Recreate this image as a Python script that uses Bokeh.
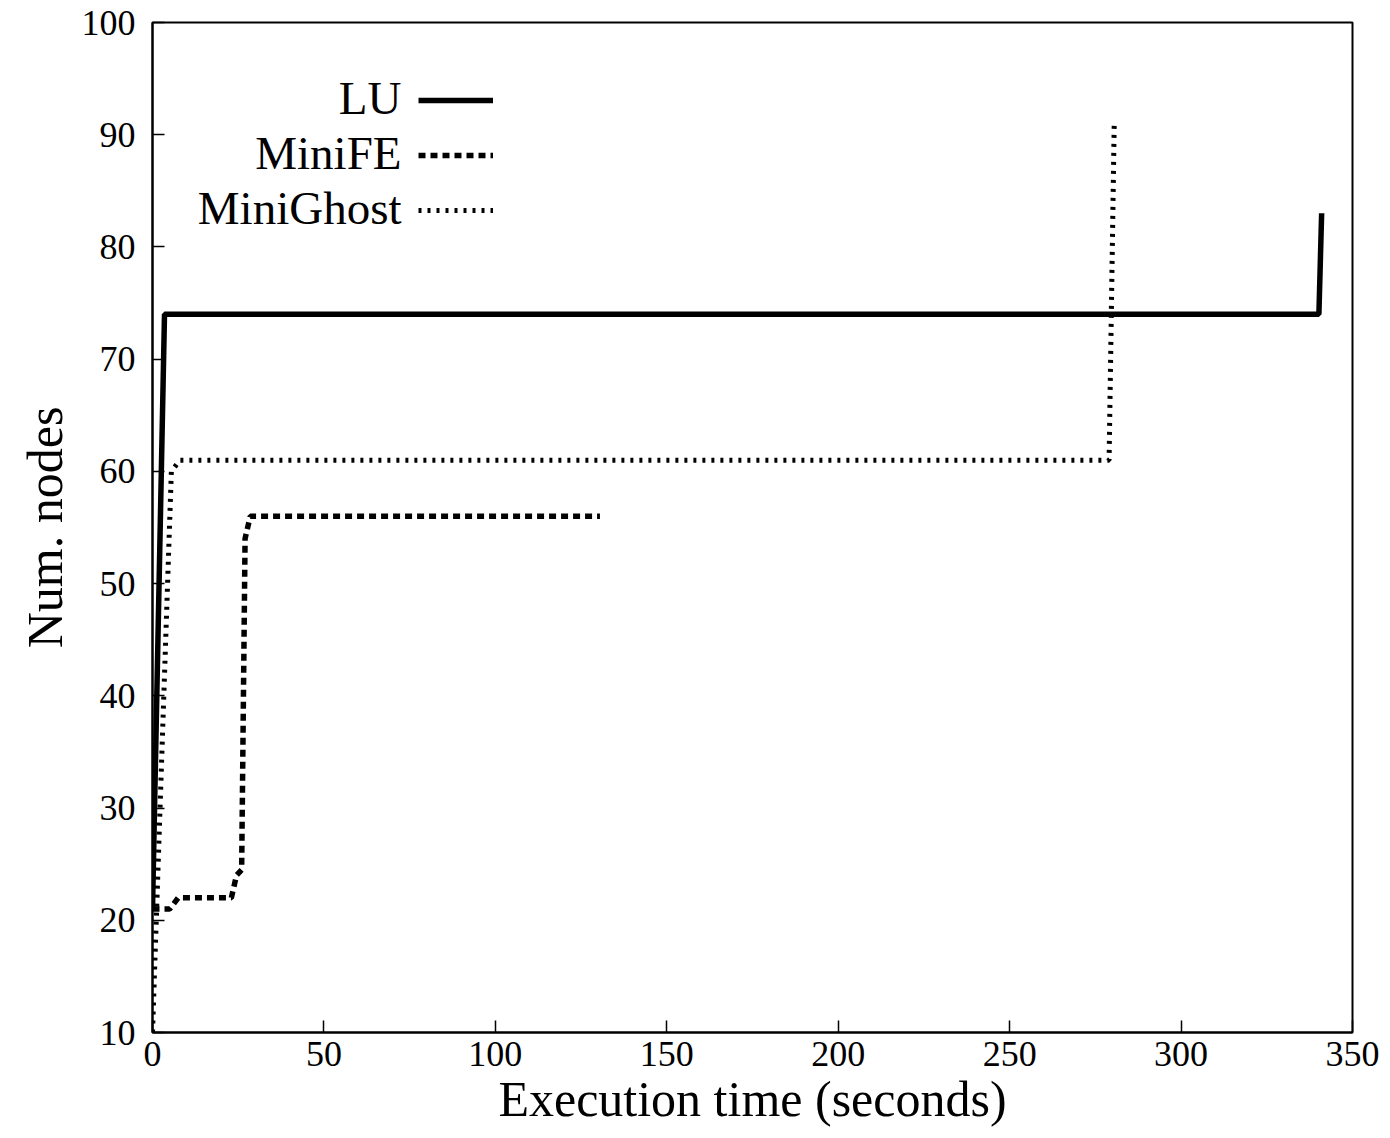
from bokeh.plotting import figure
from bokeh.models import Range1d, Legend, LegendItem, Label, FixedTicker
from bokeh.embed import file_html
from bokeh.resources import INLINE

# ---- data ----
lu_x = [0, 3.5, 101.5, 205.5, 309.5, 340.2, 341]
lu_y = [21, 74, 74, 74, 74, 74, 83]

minife_x = [0, 5, 7.5, 23, 24.5, 26, 27, 28.5, 101.5, 130.5]
minife_y = [21, 21, 22, 22, 24, 24.5, 54, 56, 56, 56]

minighost_x = [0, 5.5, 8, 101.5, 205.5, 279, 280.5]
minighost_y = [10, 60, 61, 61, 61, 61, 91]

series_names = ["LU", "MiniFE", "MiniGhost"]
x_ticks = [0, 50, 100, 150, 200, 250, 300, 350]
y_ticks = [10, 20, 30, 40, 50, 60, 70, 80, 90, 100]

FONT = "Liberation Serif"

p = figure(width=1380, height=1130, output_backend="svg", toolbar_location=None,
           x_range=Range1d(0, 350), y_range=Range1d(10, 100),
           min_border_left=152, min_border_right=28, min_border_top=22, min_border_bottom=98)

p.xgrid.visible = False
p.ygrid.visible = False
p.background_fill_color = "white"
p.border_fill_color = "white"
p.outline_line_color = "black"
p.outline_line_width = 2

for ax in (p.xaxis[0], p.yaxis[0]):
    ax.axis_line_width = 2
    ax.axis_line_color = "black"
    ax.major_tick_in = 12
    ax.major_tick_out = 0
    ax.major_tick_line_width = 1.5
    ax.minor_tick_in = 0
    ax.minor_tick_out = 0
    ax.major_label_text_font = FONT
    ax.major_label_text_font_size = "36px"
    ax.major_label_text_color = "black"
    ax.axis_label_text_font = FONT
    ax.axis_label_text_font_size = "50px"
    ax.axis_label_text_font_style = "normal"
    ax.axis_label_text_color = "black"

p.xaxis[0].ticker = FixedTicker(ticks=x_ticks)
p.yaxis[0].ticker = FixedTicker(ticks=y_ticks)
p.xaxis[0].axis_label = "Execution time (seconds)"
p.yaxis[0].axis_label = "Num. nodes"
p.xaxis[0].major_label_standoff = 9
p.xaxis[0].axis_label_standoff = 2
p.yaxis[0].major_label_standoff = 17
p.yaxis[0].axis_label_standoff = 6

r_lu = p.line(lu_x, lu_y, line_color="black", line_width=5.5)
r_fe = p.line(minife_x, minife_y, line_color="black", line_width=5.5,
              line_dash="7 5", line_cap="butt")
r_gh = p.line(minighost_x, minighost_y, line_color="black", line_width=5,
              line_dash="3 6", line_cap="butt")

legend = Legend(items=[LegendItem(label=" ", renderers=[r]) for r in (r_lu, r_fe, r_gh)],
                location=(266, 812), orientation="vertical",
                glyph_width=75, glyph_height=20, label_width=0, label_height=20,
                label_standoff=0, label_text_font_size="2px",
                spacing=35, padding=0, margin=0,
                border_line_alpha=0, background_fill_alpha=0)
p.add_layout(legend, "center")

for name, yy in zip(series_names, [935, 880, 825]):
    p.add_layout(Label(x=249, y=yy, x_units="screen", y_units="screen", text=name,
                       text_align="right", text_baseline="middle",
                       text_font=FONT, text_font_size="47px", text_color="black"))

open("out.html", "w").write(file_html(p, INLINE))
